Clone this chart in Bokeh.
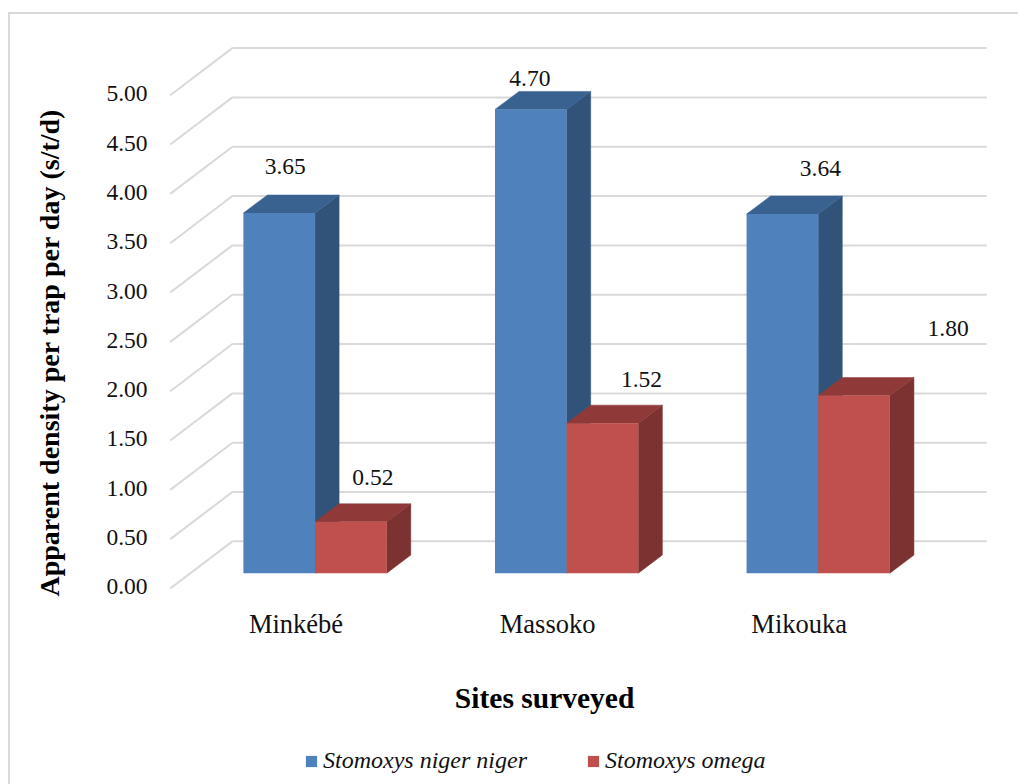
from bokeh.core.properties import value
from bokeh.embed import file_html
from bokeh.resources import INLINE
from bokeh.models import (ColumnDataSource, FixedTicker, Legend, LegendItem,
                          LinearAxis, NumeralTickFormatter, Range1d, Title)
from bokeh.plotting import figure

# ---- data
sites = ["Minkébé", "Massoko", "Mikouka"]
niger = [3.65, 4.70, 3.64]
omega = [0.52, 1.52, 1.80]
y_ticks = [0.0, 0.5, 1.0, 1.5, 2.0, 2.5, 3.0, 3.5, 4.0, 4.5, 5.0]
series_names = ["Stomoxys niger niger", "Stomoxys omega"]
y_title = "Apparent density per trap per day (s/t/d)"
x_title = "Sites surveyed"

# ---- layout (pixels in the page)
FIG_X, FIG_Y, W, H = 10, 14, 1008, 770
FRAME_L, FRAME_R, FRAME_T, FRAME_B = 156, 1018, 14, 784
PX_GROUP, PX_UNIT = 251.0, 98.4        # pixels per site, per y unit
X0_PX, Y0_PX = 316.0, 571.2            # where site 0 / value 0 fall on the bars' front
X_CAL = 1.8                            # the frame starts this far left of FRAME_L
BAR = 71.5 / PX_GROUP
DEPTH_X, DEPTH_Y = 24 / PX_GROUP, 18 / PX_UNIT
WALL_FRONT_X, WALL_BACK_X, WALL_RIGHT_X = (171.5 - X0_PX) / PX_GROUP, (233.5 - X0_PX) / PX_GROUP, (986 - X0_PX) / PX_GROUP
WALL_FRONT_Y, WALL_BACK_Y = (Y0_PX - 586.5) / PX_UNIT, (Y0_PX - 539.5) / PX_UNIT

x_start, x_end = (FRAME_L + X_CAL - X0_PX) / PX_GROUP, (FRAME_R + X_CAL - X0_PX) / PX_GROUP
y_start, y_end = (Y0_PX - FRAME_B) / PX_UNIT, (Y0_PX - FRAME_T) / PX_UNIT

FONT = "Liberation Serif"
GRID = "#D9D9D9"
BLUE = ("#4F81BD", "#3A6290", "#325379")   # front, top, side
RED = ("#C0504D", "#8F3A38", "#7B3230")

p = figure(width=W + 2, height=H + 2, output_backend="svg", toolbar_location=None,
           x_range=Range1d(x_start, x_end), y_range=Range1d(y_start, y_end),
           x_axis_location=None, y_axis_location=None,
           min_border_left=FRAME_L - FIG_X, min_border_right=0,
           min_border_top=0, min_border_bottom=0,
           background_fill_color="white", border_fill_color="white",
           styles={"border-left": f"2px solid {GRID}", "border-top": f"2px solid {GRID}"},
           margin=(12, 0, 0, 8))
p.grid.visible = False
p.outline_line_color = None

# axes: ticks sit on the front edge of the wall, site labels under the floor
shift_y = -WALL_FRONT_Y - 1.5 / PX_UNIT
p.extra_y_ranges["wall"] = Range1d(y_start + shift_y, y_end + shift_y)
shift_x = 19 / PX_GROUP
p.extra_x_ranges["sites"] = Range1d(x_start + shift_x, x_end + shift_x)

# the blank axis label only keeps the y title clear of the tick labels
yax = LinearAxis(y_range_name="wall", ticker=FixedTicker(ticks=y_ticks),
                 formatter=NumeralTickFormatter(format="0.00"),
                 axis_line_color=None, major_tick_line_color=None, minor_tick_line_color=None,
                 major_label_text_font=FONT, major_label_text_font_size="23.5px",
                 major_label_text_color="#111111", major_label_standoff=3,
                 axis_label=" ", axis_label_text_font_size="1px", axis_label_standoff=15)
p.add_layout(yax, "left")
xax = LinearAxis(x_range_name="sites", ticker=FixedTicker(ticks=list(range(len(sites)))),
                 major_label_overrides={i: s for i, s in enumerate(sites)},
                 axis_line_color=None, major_tick_line_color=None, minor_tick_line_color=None,
                 major_label_text_font=FONT, major_label_text_font_size="26.5px",
                 major_label_text_color="#111111", major_label_standoff=600 - FRAME_B)
p.add_layout(xax, "below")

# gridlines on both walls
p.segment(x0=[WALL_BACK_X] * len(y_ticks), y0=[v + WALL_BACK_Y for v in y_ticks],
          x1=[WALL_RIGHT_X] * len(y_ticks), y1=[v + WALL_BACK_Y for v in y_ticks],
          line_color=GRID, line_width=2)
p.segment(x0=[WALL_FRONT_X] * len(y_ticks), y0=[v + WALL_FRONT_Y for v in y_ticks],
          x1=[WALL_BACK_X] * len(y_ticks), y1=[v + WALL_BACK_Y for v in y_ticks],
          line_color=GRID, line_width=2)


def bars(values, left_of, colors):
    front, top, side = colors
    for i, v in enumerate(values):
        x0 = left_of(i)
        x1 = x0 + BAR
        p.patch([x1, x1 + DEPTH_X, x1 + DEPTH_X, x1], [0, DEPTH_Y, v + DEPTH_Y, v],
                fill_color=side, line_color=side, line_width=0.5)
        p.patch([x0, x1, x1 + DEPTH_X, x0 + DEPTH_X], [v, v, v + DEPTH_Y, v + DEPTH_Y],
                fill_color=top, line_color=top, line_width=0.5)
    src = ColumnDataSource(dict(left=[left_of(i) for i in range(len(values))],
                                right=[left_of(i) + BAR for i in range(len(values))],
                                top=values, bottom=[0] * len(values)))
    return p.quad(left="left", right="right", top="top", bottom="bottom", source=src,
                  fill_color=front, line_color=None)


r_niger = bars(niger, lambda i: i - BAR, BLUE)
r_omega = bars(omega, lambda i: i, RED)

# value labels (hand placed in the original chart)
niger_dx, niger_dy = [6, -1, 38], [-47, -31, -46]
omega_dx, omega_dy = [22, 39, 94], [-44, -44, -67]
for values, left, dxs, dys in ((niger, -BAR, niger_dx, niger_dy), (omega, 0, omega_dx, omega_dy)):
    src = ColumnDataSource(dict(x=[i + left + BAR / 2 for i in range(len(values))], y=values,
                                t=[f"{v:.2f}" for v in values], dx=dxs, dy=dys))
    p.text(x="x", y="y", text="t", source=src, x_offset="dx", y_offset="dy",
           text_align="center", text_baseline="middle", text_color="#111111",
           text_font=value(FONT), text_font_size=value("23.5px"))

# titles
p.add_layout(Title(text=y_title, align="left", offset=FRAME_B - 594, standoff=40,
                   text_font=FONT, text_font_style="bold", text_font_size="28px",
                   text_color="black"), "left")
p.text(x=[(545 - X0_PX) / PX_GROUP], y=[(Y0_PX - 696) / PX_UNIT], text=[x_title],
       text_align="center", text_baseline="middle", text_color="black",
       text_font=value(FONT), text_font_style="bold", text_font_size=value("29.5px"))

legend = Legend(items=[LegendItem(label=series_names[0], renderers=[r_niger]),
                       LegendItem(label=series_names[1], renderers=[r_omega])],
                orientation="horizontal", location=(304 - FRAME_L, FRAME_B - 772),
                border_line_color=None, background_fill_alpha=0, padding=0, margin=0,
                glyph_width=14, glyph_height=14, label_standoff=5, spacing=59,
                label_text_font=FONT, label_text_font_style="italic",
                label_text_font_size="24px", label_text_color="#111111")
p.add_layout(legend, "center")

open("out.html", "w").write(file_html(p, INLINE))
